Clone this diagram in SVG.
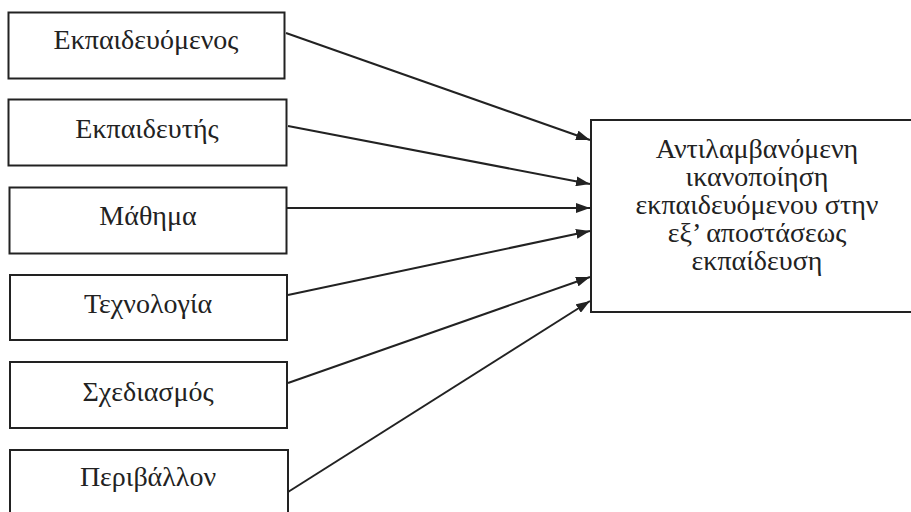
<svg xmlns="http://www.w3.org/2000/svg" width="911" height="512" viewBox="0 0 911 512">
<style>
.box{fill:#fff;stroke:#222;stroke-width:2}
.lbl{font-family:"Liberation Serif","DejaVu Serif",serif;font-size:28px;fill:#222;text-anchor:middle}
.conn line{stroke:#222;stroke-width:2;marker-end:url(#ah)}
</style>
<defs>
<marker id="ah" markerUnits="userSpaceOnUse" markerWidth="14" markerHeight="10" refX="14" refY="5" orient="auto">
<path d="M0,0 L14,5 L0,10 z" fill="#222"/>
</marker>
</defs>
<rect width="911" height="512" fill="#fff"/>
<g id="n1"><rect class="box" x="8.5" y="12.5" width="276" height="66"/><text class="lbl" x="146" y="49">Εκπαιδευόμενος</text></g>
<g id="n2"><rect class="box" x="8.5" y="99.5" width="278" height="66"/><text class="lbl" x="147" y="138">Εκπαιδευτής</text></g>
<g id="n3"><rect class="box" x="9.5" y="187.5" width="277" height="66"/><text class="lbl" x="148" y="225">Μάθημα</text></g>
<g id="n4"><rect class="box" x="10" y="275" width="277" height="65"/><text class="lbl" x="148" y="313">Τεχνολογία</text></g>
<g id="n5"><rect class="box" x="10" y="362" width="277" height="66"/><text class="lbl" x="148" y="401">Σχεδιασμός</text></g>
<g id="n6"><rect class="box" x="10" y="450" width="278" height="72"/><text class="lbl" x="148" y="486">Περιβάλλον</text></g>
<g id="target"><rect class="box" x="591" y="120" width="330" height="192"/>
<text class="lbl" x="757"><tspan x="757" y="158">Αντιλαμβανόμενη</tspan><tspan x="757" y="186">ικανοποίηση</tspan><tspan x="757" y="214">εκπαιδευόμενου στην</tspan><tspan x="757" y="242">εξ’ αποστάσεως</tspan><tspan x="757" y="270">εκπαίδευση</tspan></text></g>
<g id="connectors" class="conn">
<line x1="286" y1="33" x2="590" y2="140"/>
<line x1="288" y1="126" x2="590" y2="184"/>
<line x1="287" y1="208" x2="590" y2="208"/>
<line x1="288" y1="295" x2="590" y2="231"/>
<line x1="288" y1="383" x2="590" y2="277"/>
<line x1="288" y1="492" x2="590" y2="301"/>
</g>
</svg>
